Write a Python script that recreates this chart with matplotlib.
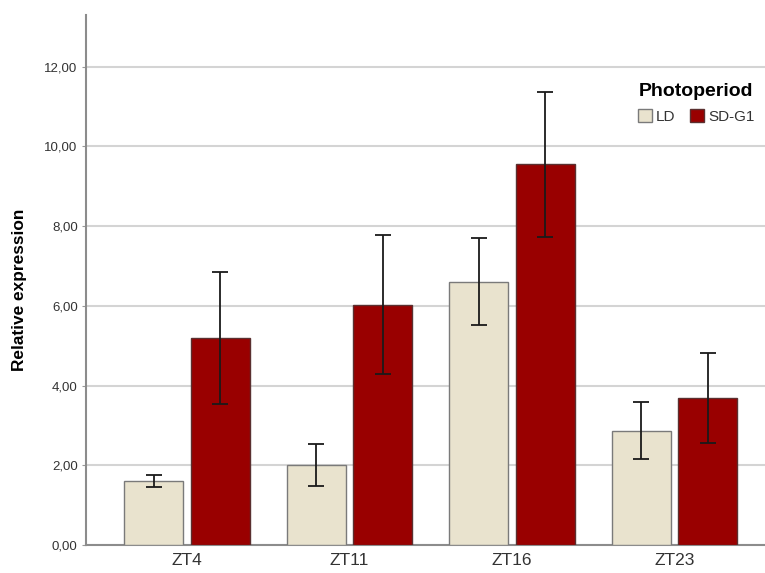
import numpy as np
import matplotlib
matplotlib.use("Agg")
import matplotlib.pyplot as plt

# relative expression per sampling time, means and error bar ends
times = ["ZT4", "ZT11", "ZT16", "ZT23"]
ld_mean = [1.60, 2.01, 6.59, 2.87]
ld_low = [1.45, 1.48, 5.53, 2.15]
ld_high = [1.76, 2.53, 7.70, 3.60]
sd_mean = [5.20, 6.02, 9.55, 3.70]
sd_low = [3.54, 4.28, 7.73, 2.57]
sd_high = [6.86, 7.78, 11.36, 4.82]
ytick_vals = [0, 2, 4, 6, 8, 10, 12]
ytick_labels = ["0,00", "2,00", "4,00", "6,00", "8,00", "10,00", "12,00"]

plt.rcParams['font.family'] = ['Liberation Sans', 'DejaVu Sans']

fig = plt.figure(figsize=(7.65, 5.73), dpi=100)
ax = fig.add_axes([0.1124, 0.0489, 0.8876, 0.925])

x = np.arange(len(times))
w = 0.363
off = 0.205

def errs(mean, low, high):
    m = np.array(mean)
    return [m - np.array(low), np.array(high) - m]

ax.bar(x - off, ld_mean, w, color='#E9E3CE', edgecolor='#7a7a7a', linewidth=1.0,
       label='LD', zorder=3)
ax.bar(x + off, sd_mean, w, color='#990000', edgecolor='#5a3030', linewidth=1.0,
       label='SD-G1', zorder=3)
ax.errorbar(x - off, ld_mean, yerr=errs(ld_mean, ld_low, ld_high), fmt='none',
            ecolor='#1a1a1a', elinewidth=1.3, capsize=5.8, capthick=1.3, zorder=4)
ax.errorbar(x + off, sd_mean, yerr=errs(sd_mean, sd_low, sd_high), fmt='none',
            ecolor='#1a1a1a', elinewidth=1.3, capsize=5.8, capthick=1.3, zorder=4)

ax.set_xlim(-0.622, 3.557)
ax.set_ylim(0, 13.3)
ax.set_xticks(x)
ax.set_xticklabels(times, fontsize=12.5, color='#333333')
ax.set_yticks(ytick_vals)
ax.set_yticklabels(ytick_labels, fontsize=9.5, color='#333333')
ax.tick_params(axis='x', length=0, pad=6)
ax.tick_params(axis='y', length=3, color='#999999', pad=3)

ax.yaxis.grid(True, color='#d4d4d4', linewidth=1.5, zorder=0)
ax.set_axisbelow(True)
for s in ['top', 'right']:
    ax.spines[s].set_visible(False)
for s in ['left', 'bottom']:
    ax.spines[s].set_color('#8c8c8c')
    ax.spines[s].set_linewidth(1.5)

ax.set_ylabel("Relative expression", fontsize=12.4, fontweight='bold', color='black')
ax.yaxis.set_label_coords(-0.087, 0.481)

leg = ax.legend(title="Photoperiod", ncol=2, frameon=True, fontsize=11,
                loc='center', bbox_to_anchor=(0.910, 0.820), bbox_transform=fig.transFigure,
                handlelength=0.92, handleheight=0.92, handletextpad=0.25,
                columnspacing=1.0, borderpad=0.3, labelspacing=0.62)
leg.get_frame().set_edgecolor('none')
leg.get_frame().set_facecolor('white')
leg.get_frame().set_alpha(1)
leg.get_title().set_fontweight('bold')
leg.get_title().set_fontsize(14)
for t in leg.get_texts():
    t.set_color('#333333')

fig.savefig("out.png", dpi=100)
